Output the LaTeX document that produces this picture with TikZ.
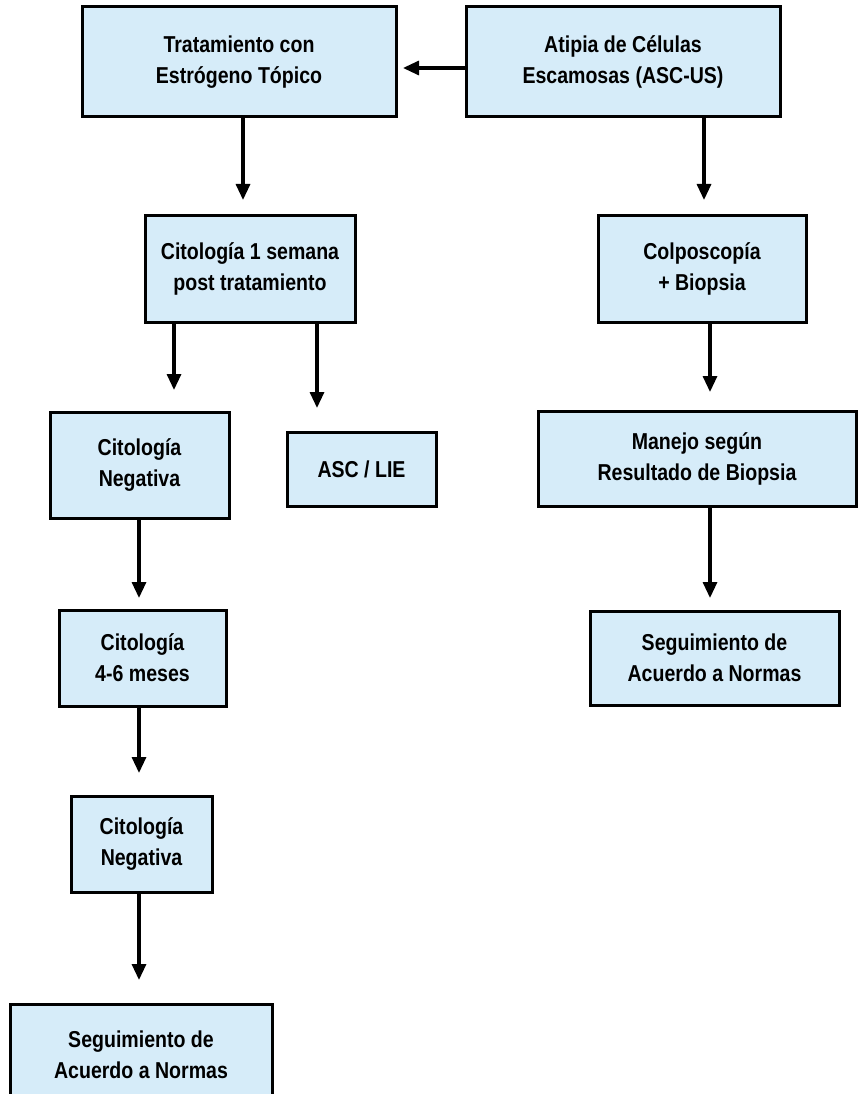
\documentclass[tikz,border=0pt]{standalone}
\usepackage{fontspec}
\usetikzlibrary{arrows.meta}
\newfontfamily\boxfont[FakeStretch=0.85]{Liberation Sans}
\definecolor{boxfill}{RGB}{214,236,249}
\tikzset{
  flowbox/.style={draw=black, line width=3pt, fill=boxfill, rectangle,
    inner sep=0pt, outer sep=0pt, align=center, text=black,
    font=\boxfont\bfseries\fontsize{23}{31}\selectfont},
  flowarrow/.style={line width=3.2pt, -{Triangle[width=14pt,length=16pt]}}
}
\begin{document}
\begin{tikzpicture}[x=1pt,y=-1pt]
\useasboundingbox (0,0) rectangle (859,1094);
\clip (0,0) rectangle (859,1094);

% boxes
\node[flowbox, minimum width=314pt, minimum height=110pt] (trat) at (239,62)
  {Tratamiento con\\Estrógeno Tópico};
\node[flowbox, minimum width=314pt, minimum height=110pt] (atip) at (623,62)
  {Atipia de Células\\Escamosas (ASC-US)};
\node[flowbox, minimum width=210pt, minimum height=107pt] (cit1) at (250,268.5)
  {Citología 1 semana\\post tratamiento};
\node[flowbox, minimum width=208pt, minimum height=107pt] (colp) at (702,268.5)
  {Colposcopía\\+ Biopsia};
\node[flowbox, minimum width=179pt, minimum height=106pt] (neg1) at (139.5,465)
  {Citología\\Negativa};
\node[flowbox, minimum width=149pt, minimum height=74pt] (asc) at (361.5,469)
  {ASC / LIE};
\node[flowbox, minimum width=318pt, minimum height=95pt] (mane) at (697,458.5)
  {Manejo según\\Resultado de Biopsia};
\node[flowbox, minimum width=167pt, minimum height=96pt] (cit4) at (142.5,658)
  {Citología\\4-6 meses};
\node[flowbox, minimum width=249pt, minimum height=94pt] (segR) at (714.5,658)
  {Seguimiento de\\Acuerdo a Normas};
\node[flowbox, minimum width=141pt, minimum height=96pt] (neg2) at (141.5,844)
  {Citología\\Negativa};
\node[flowbox, minimum width=262pt, minimum height=102pt] (segL) at (141,1055)
  {Seguimiento de\\Acuerdo a Normas};

% connector guide lines
\coordinate (hA) at (0,68);
\coordinate (xA) at (243,0);
\coordinate (xB) at (704,0);
\coordinate (xC) at (174,0);
\coordinate (xD) at (317,0);
\coordinate (xE) at (710,0);
\coordinate (xF) at (139,0);

% connectors
\draw[flowarrow, shorten >=7pt] (atip.west |- hA) -- (trat.east |- hA);
\draw[flowarrow, shorten >=15pt] (trat.south -| xA) -- (cit1.north -| xA);
\draw[flowarrow, shorten >=15pt] (atip.south -| xB) -- (colp.north -| xB);
\draw[flowarrow, shorten >=22pt] (cit1.south -| xC) -- (neg1.north -| xC);
\draw[flowarrow, shorten >=24pt] (cit1.south -| xD) -- (asc.north -| xD);
\draw[flowarrow, shorten >=19pt] (colp.south -| xE) -- (mane.north -| xE);
\draw[flowarrow, shorten >=12pt] (neg1.south -| xF) -- (cit4.north -| xF);
\draw[flowarrow, shorten >=13pt] (mane.south -| xE) -- (segR.north -| xE);
\draw[flowarrow, shorten >=23pt] (cit4.south -| xF) -- (neg2.north -| xF);
\draw[flowarrow, shorten >=24pt] (neg2.south -| xF) -- (segL.north -| xF);
\end{tikzpicture}
\end{document}
